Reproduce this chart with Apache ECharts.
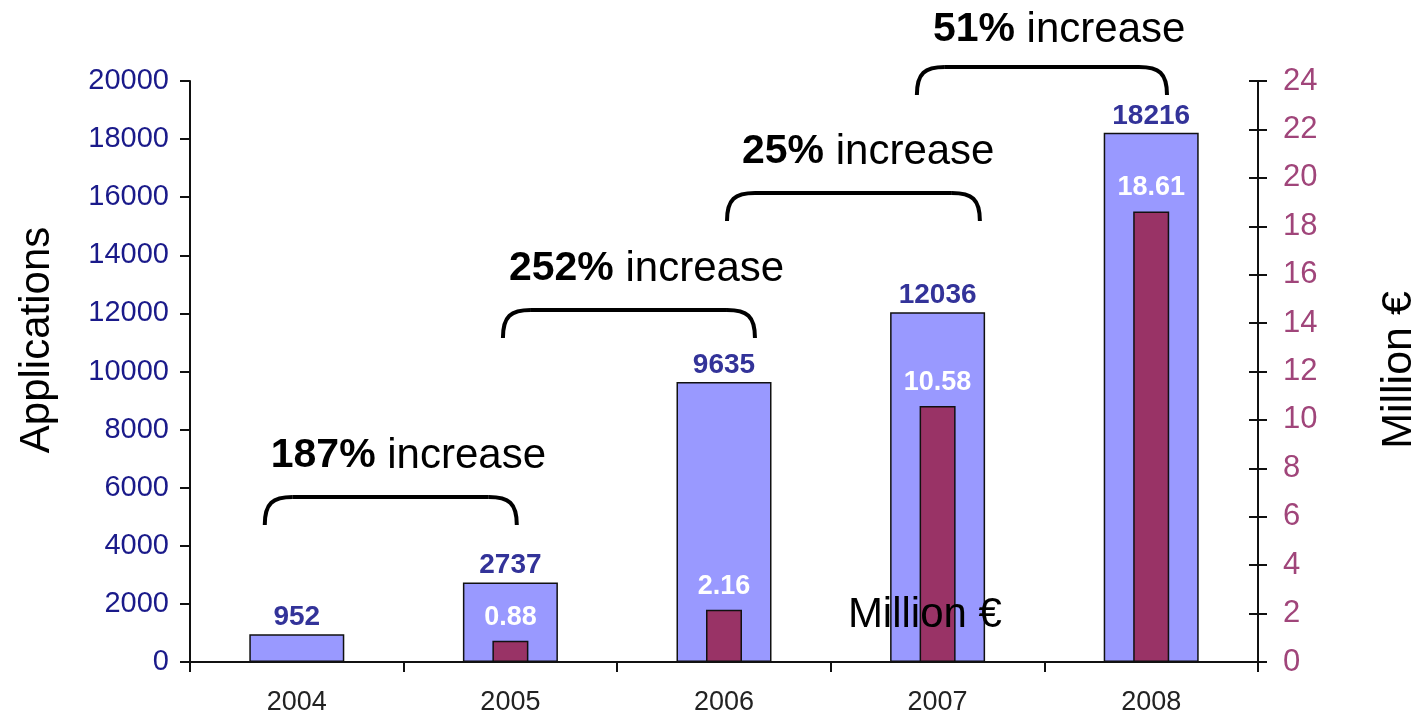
<!DOCTYPE html>
<html><head><meta charset="utf-8">
<script src="https://cdn.jsdelivr.net/npm/echarts@6/dist/echarts.min.js"></script>
<style>html,body{margin:0;padding:0;background:#fff}#c{width:1419px;height:717px}</style>
</head><body><div id="c"></div>
<script>
// ---- data ----
const years = ['2004', '2005', '2006', '2007', '2008'];
const applications = [952, 2737, 9635, 12036, 18216];
const millionEuro = [null, 0.88, 2.16, 10.58, 18.61];
const leftAxisMin = 0, leftAxisMax = 20000, leftAxisStep = 2000;
const rightAxisMin = 0, rightAxisMax = 24, rightAxisStep = 2;
const increasePercents = ['187%', '252%', '25%', '51%'];
const increaseWord = 'increase';
const leftTitle = 'Applications';
const rightTitle = 'Million €';
const strayLabel = 'Million €';

// ---- layout (annotation anchors in axis space) ----
const bracketLayout = [
  { from: -0.15, to: 1.03, level: 5680, textDx: 6, textDy: -41 },
  { from: 0.965, to: 2.145, level: 12117, textDx: 6, textDy: -41 },
  { from: 2.014, to: 3.198, level: 16145, textDx: 15, textDy: -41 },
  { from: 2.903, to: 4.074, level: 20482, textDx: 16, textDy: -37 }
];
const strayAnchor = { cat: 2.58, value: 1618 };

const FONT = "'Liberation Sans', Arial, Helvetica, sans-serif";
const chart = echarts.init(document.getElementById('c'), null, { renderer: 'canvas' });

chart.setOption({
  animation: false,
  backgroundColor: '#fff',
  grid: { left: 190, right: 161, top: 81, bottom: 55, containLabel: false },
  xAxis: [
    {
      type: 'category', data: years, boundaryGap: true,
      axisLine: { show: true, lineStyle: { color: '#111', width: 2 } },
      axisTick: { show: true, length: 10, lineStyle: { color: '#111', width: 2 } },
      axisLabel: { color: '#222', fontSize: 27, margin: 27, fontFamily: FONT },
      splitLine: { show: false }
    },
    { type: 'category', data: years, show: false }
  ],
  yAxis: [
    {
      type: 'value', position: 'left', min: leftAxisMin, max: leftAxisMax, interval: leftAxisStep,
      axisLine: { show: true, lineStyle: { color: '#111', width: 2 } },
      axisTick: { show: true, length: 10, lineStyle: { color: '#111', width: 2 } },
      axisLabel: { color: '#1a1a8a', fontSize: 29, margin: 21, fontFamily: FONT, formatter: v => String(v) },
      splitLine: { show: false }
    },
    {
      type: 'value', position: 'right', min: rightAxisMin, max: rightAxisMax, interval: rightAxisStep,
      axisLine: { show: true, lineStyle: { color: '#111', width: 2 } },
      axisTick: { show: true, length: 9, lineStyle: { color: '#111', width: 2 } },
      axisLabel: { color: '#a0457a', fontSize: 31, margin: 25, fontFamily: FONT },
      splitLine: { show: false }
    },
    {
      type: 'value', position: 'right', min: rightAxisMin, max: rightAxisMax, interval: rightAxisStep,
      axisLine: { show: false },
      axisTick: { show: true, inside: true, length: 9, lineStyle: { color: '#111', width: 2 } },
      axisLabel: { show: false },
      splitLine: { show: false }
    }
  ],
  series: [
    {
      type: 'bar', name: 'Applications', xAxisIndex: 0, yAxisIndex: 0,
      data: applications, barWidth: 95,
      itemStyle: { color: '#9999ff', borderColor: '#111', borderWidth: 1.5 },
      label: { show: true, position: 'top', distance: 3, color: '#333399', fontWeight: 'bold', fontSize: 28, fontFamily: FONT }
    },
    {
      type: 'bar', name: 'Million €', xAxisIndex: 1, yAxisIndex: 1,
      data: millionEuro, barWidth: 36,
      itemStyle: { color: '#993366', borderColor: '#111', borderWidth: 1.5 },
      label: { show: true, position: 'top', distance: 10, color: '#ffffff', fontWeight: 'bold', fontSize: 27, fontFamily: FONT }
    }
  ]
});

// ---- annotations anchored to axes ----
const c0 = chart.convertToPixel({ xAxisIndex: 0 }, 0);
const c1 = chart.convertToPixel({ xAxisIndex: 0 }, 1);
const band = c1 - c0;
const fx = f => c0 + f * band;
const fy = v => chart.convertToPixel({ yAxisIndex: 0 }, v);

const graphics = [];
const bracketStyle = { stroke: '#000', fill: null, lineWidth: 4 };
bracketLayout.forEach((b, i) => {
  const xa = fx(b.from), xb = fx(b.to), y = fy(b.level);
  const r = 28, w = 28;
  graphics.push({
    type: 'bezierCurve', z: 10, style: bracketStyle,
    shape: { x1: xa, y1: y + r, cpx1: xa, cpy1: y + 6, cpx2: xa + 8, cpy2: y, x2: xa + w, y2: y }
  });
  graphics.push({
    type: 'line', z: 10, style: bracketStyle,
    shape: { x1: xa + w, y1: y, x2: xb - w, y2: y }
  });
  graphics.push({
    type: 'bezierCurve', z: 10, style: bracketStyle,
    shape: { x1: xb - w, y1: y, cpx1: xb - 8, cpy1: y, cpx2: xb, cpy2: y + 6, x2: xb, y2: y + r }
  });
  graphics.push({
    type: 'text', z: 10,
    x: xa + b.textDx, y: y + b.textDy,
    style: {
      text: `{b|${increasePercents[i]}}{n| ${increaseWord}}`,
      verticalAlign: 'middle', align: 'left',
      rich: {
        b: { fontSize: 41, fontWeight: 'bold', fontFamily: FONT, fill: '#000' },
        n: { fontSize: 42, fontFamily: FONT, fill: '#000' }
      }
    }
  });
});
graphics.push({
  type: 'text', z: 10, x: fx(strayAnchor.cat), y: fy(strayAnchor.value),
  style: { text: strayLabel, fontSize: 42, fontFamily: FONT, fill: '#000', align: 'left', verticalAlign: 'middle' }
});
graphics.push({
  type: 'text', x: 37, y: 340, rotation: Math.PI / 2,
  style: { text: leftTitle, fontSize: 42, fontFamily: FONT, fill: '#000', align: 'center', verticalAlign: 'middle' }
});
graphics.push({
  type: 'text', x: 1399, y: 370, rotation: Math.PI / 2,
  style: { text: rightTitle, fontSize: 43, fontFamily: FONT, fill: '#000', align: 'center', verticalAlign: 'middle' }
});
chart.setOption({ graphic: graphics });
</script>
</body></html>
